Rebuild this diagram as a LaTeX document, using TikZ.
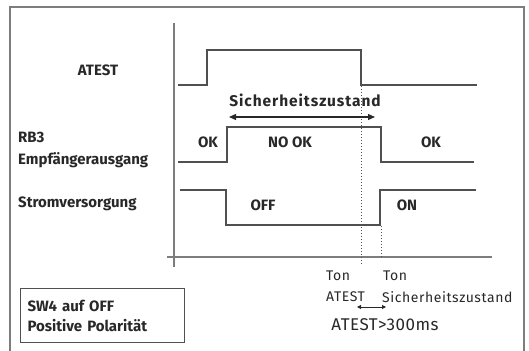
\documentclass[tikz,border=0pt]{standalone}
\usepackage{fontspec}
\setmainfont{Fira Sans}
\usetikzlibrary{arrows.meta, positioning}
\definecolor{cLine}{RGB}{80,80,80}
\definecolor{cFrame}{RGB}{125,125,125}
\definecolor{cText}{RGB}{40,40,40}
\tikzset{
	lbl/.style   ={font=\bfseries\fontsize{15}{17}\selectfont, text=cText, inner sep=0pt},
	note/.style  ={font=\fontsize{14}{16}\selectfont\addfontfeatures{LetterSpace=4}, text=cText, inner sep=0pt},
	sigline/.style={draw=cLine, line width=1.3pt},
	axis/.style  ={draw=cFrame, line width=1.4pt},
	marker/.style={draw=cLine, dotted, line width=1pt},
	span/.style  ={{Triangle[length=7pt,width=6pt]}-{Triangle[length=7pt,width=6pt]}, draw=cText, line width=1.2pt},
	spansmall/.style={{Triangle[length=4pt,width=4pt]}-{Triangle[length=4pt,width=4pt]}, draw=cText, line width=0.9pt},
	infobox/.style={draw=cLine, line width=1.2pt, minimum width=164pt, minimum height=54pt, align=left, text width=150pt, inner sep=0pt},
}
\begin{document}
\begin{tikzpicture}[x=1pt,y=-1pt]
	\useasboundingbox (0,0) rectangle (529,350);
	% frame and axes
	\draw[axis] (10,352) -- (10,7) -- (524,7) -- (524,352);
	\draw[axis] (174,23) -- (174,267);
	\draw[axis] (167,257) -- (492,257);
	% signals
	\draw[sigline] (178,85) -- (207,85) -- (207,50) -- (361,50) -- (361,85) -- (477,85);
	\draw[sigline] (178,162) -- (227,162) -- (227,127) -- (381,127) -- (381,162) -- (474,162);
	\draw[sigline] (180,190) -- (226,190) -- (226,225) -- (380,225) -- (380,190) -- (476,190);
	\draw[marker] (361,86) -- (361,265);
	\draw[marker] (381,226) -- (381,258);
	% row labels
	\node[lbl] (atest) at (98,70) {ATEST};
	\node[lbl, anchor=west] (rb) at (18,137) {RB3};
	\node[lbl, anchor=west] (empf) at (18,160) {Empfängerausgang};
	\node[lbl, anchor=west] (strom) at (18,204) {Stromversorgung};
	% states
	\node[lbl] (okA) at (208,142) {OK};
	\node[lbl] (nook) at (290,142) {NO OK};
	\node[lbl] (okB) at (431,142) {OK};
	\node[lbl] (off) at (263,205) {OFF};
	\node[lbl] (on) at (407,205) {ON};
	\node[lbl, font=\bfseries\fontsize{15.5}{17}\selectfont\addfontfeatures{LetterSpace=6}] (sicher) at (305,100) {Sicherheitszustand};
	\coordinate (sL) at (229,117);
	\coordinate (sR) at (375,117);
	\draw[span] (sL) -- (sR);
	% time marks
	\node[note, anchor=west] (tonA) at (326,276) {Ton};
	\node[note, anchor=west] (tatest) at (326,297) {ATEST};
	\node[note, anchor=west] (tonB) at (383,276) {Ton};
	\node[note, anchor=west] (tsicher) at (382,297) {Sicherheitszustand};
	\coordinate (dA) at (357,307);
	\coordinate (dB) at (386,307);
	\draw[spansmall] (dA) -- (dB);
	\node[note, font=\fontsize{17}{19}\selectfont\addfontfeatures{LetterSpace=3}] (limit) at (385,325) {ATEST>300ms};
	% settings box
	\node[infobox, lbl, anchor=north west] (sw) at (20,288) {SW4 auf OFF\\[3pt]Positive Polarität};
\end{tikzpicture}
\end{document}
